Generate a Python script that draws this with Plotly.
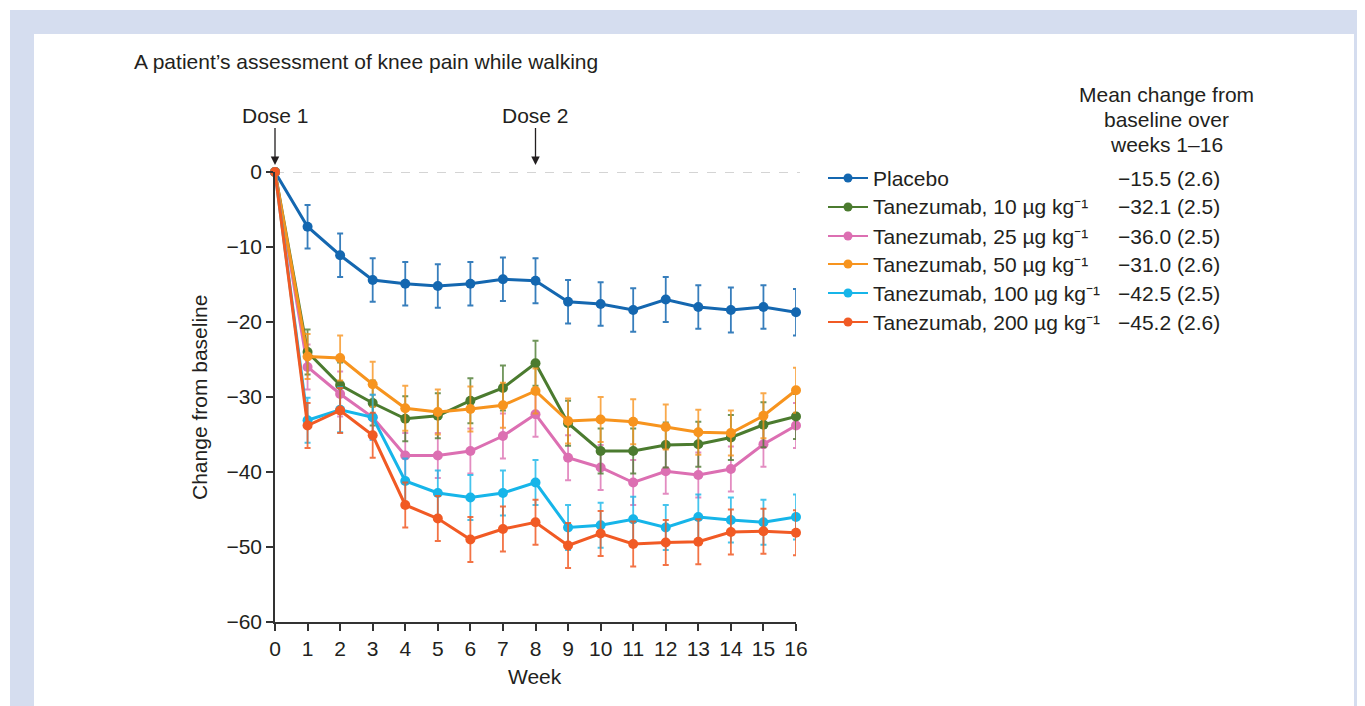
import plotly.graph_objects as go

# ---------------- data ----------------
weeks = list(range(17))
week_ticks = [str(w) for w in weeks]
y_ticks = [0, -10, -20, -30, -40, -50, -60]

placebo = [0, -7.3, -11.1, -14.4, -14.9, -15.2, -14.9, -14.3, -14.5, -17.3, -17.6, -18.4, -17.0, -18.0, -18.4, -18.0, -18.7]
tan10 = [0, -24.0, -28.4, -30.8, -32.9, -32.5, -30.5, -28.8, -25.5, -33.5, -37.2, -37.2, -36.4, -36.3, -35.4, -33.7, -32.6]
tan25 = [0, -26.0, -29.6, -32.7, -37.8, -37.8, -37.2, -35.2, -32.3, -38.1, -39.4, -41.4, -39.9, -40.4, -39.6, -36.3, -33.8]
tan50 = [0, -24.6, -24.8, -28.3, -31.5, -32.0, -31.6, -31.1, -29.2, -33.2, -33.0, -33.3, -34.0, -34.7, -34.8, -32.5, -29.1]
tan100 = [0, -33.1, -31.7, -32.7, -41.2, -42.8, -43.4, -42.8, -41.4, -47.4, -47.1, -46.3, -47.4, -46.0, -46.4, -46.7, -46.0]
tan200 = [0, -33.8, -31.8, -35.1, -44.4, -46.2, -49.0, -47.6, -46.7, -49.8, -48.2, -49.6, -49.4, -49.3, -48.0, -47.9, -48.1]

err_placebo = [0, 2.9, 2.9, 2.9, 2.9, 2.9, 2.9, 2.9, 3.0, 2.9, 2.9, 2.9, 3.0, 2.9, 3.0, 2.9, 3.1]
err_tan10 = [0, 3.0, 3.0, 3.0, 3.0, 3.0, 3.0, 3.0, 3.0, 3.0, 3.0, 3.0, 3.0, 3.0, 3.0, 3.0, 3.0]
err_tan25 = [0, 3.0, 3.0, 3.0, 3.0, 3.0, 3.0, 3.0, 3.0, 3.0, 3.0, 3.0, 3.0, 3.0, 3.0, 3.0, 3.0]
err_tan50 = [0, 3.0, 3.0, 3.0, 3.0, 3.0, 3.0, 3.0, 3.0, 3.0, 3.0, 3.0, 3.0, 3.0, 3.0, 3.0, 3.0]
err_tan100 = [0, 3.0, 3.0, 3.0, 3.0, 3.0, 3.0, 3.0, 3.0, 3.0, 3.0, 3.0, 3.0, 3.0, 3.0, 3.0, 3.0]
err_tan200 = [0, 3.0, 3.0, 3.0, 3.0, 3.0, 3.0, 3.0, 3.0, 3.0, 3.0, 3.0, 3.0, 3.0, 3.0, 3.0, 3.0]

series_names = [
    "Placebo",
    "Tanezumab, 10 µg kg⁻¹",
    "Tanezumab, 25 µg kg⁻¹",
    "Tanezumab, 50 µg kg⁻¹",
    "Tanezumab, 100 µg kg⁻¹",
    "Tanezumab, 200 µg kg⁻¹",
]
mean_change = ["−15.5 (2.6)", "−32.1 (2.5)", "−36.0 (2.5)", "−31.0 (2.6)", "−42.5 (2.5)", "−45.2 (2.6)"]
header_lines = ["Mean change from", "baseline over", "weeks 1–16"]
series_values = [placebo, tan10, tan25, tan50, tan100, tan200]
series_errors = [err_placebo, err_tan10, err_tan25, err_tan50, err_tan100, err_tan200]
colors = ["#1467b0", "#4b7b2f", "#dc6fb2", "#f7941e", "#16b5e9", "#f15a24"]
err_colors = ["rgba(20,103,176,0.85)", "rgba(75,123,47,0.8)", "rgba(220,111,178,0.8)",
              "rgba(247,148,30,0.8)", "rgba(22,181,233,0.8)", "rgba(241,90,36,0.85)"]
draw_order = [0, 2, 1, 3, 4, 5]

# ---------------- geometry (pixels in the page; body margin of 8px) ----------------
OFF = 8
W, H = 1365 - OFF, 706 - OFF
L, R, T, B = 275 - OFF, 796 - OFF, 172 - OFF, 622 - OFF
FONT = "Liberation Sans, Arial, Helvetica, sans-serif"
TXT = "#231f20"
FS = 21


def px(x):
    return (x - OFF - L) / (R - L)


def py(y):
    return (B - (y - OFF)) / (B - T)


fig = go.Figure()
for i in draw_order:
    fig.add_trace(go.Scatter(
        x=weeks, y=series_values[i], mode="lines+markers",
        line=dict(color=colors[i], width=3),
        marker=dict(color=colors[i], size=10),
        error_y=dict(type="data", array=series_errors[i], visible=True,
                     color=err_colors[i], thickness=1.8, width=3),
        cliponaxis=False, showlegend=False,
    ))

shapes = []
# page frame
shapes.append(dict(type="rect", xref="paper", yref="paper", x0=px(10), x1=px(1366), y0=py(710), y1=py(10),
                   fillcolor="#d5ddef", line=dict(width=0), layer="below"))
shapes.append(dict(type="rect", xref="paper", yref="paper", x0=px(34), x1=px(1354), y0=py(710), y1=py(34),
                   fillcolor="white", line=dict(width=0), layer="below"))
# zero reference line
shapes.append(dict(type="line", xref="paper", yref="y", x0=0, x1=px(800), y0=0, y1=0,
                   line=dict(color="#aaaaaa", width=1.2, dash="dash"), layer="below"))

annotations = []
# legend rows
row_y = [178, 207, 236, 264, 293, 322]
for i in range(6):
    yy = py(row_y[i])
    shapes.append(dict(type="line", xref="paper", yref="paper", x0=px(828), x1=px(868), y0=yy, y1=yy,
                       line=dict(color=colors[i], width=2)))
    shapes.append(dict(type="circle", xref="paper", yref="paper", xsizemode="pixel", ysizemode="pixel",
                       xanchor=px(848), yanchor=yy, x0=-4.5, x1=4.5, y0=-4.5, y1=4.5,
                       fillcolor=colors[i], line=dict(width=0)))
    annotations.append(dict(xref="paper", yref="paper", x=px(871), y=yy, text=series_names[i],
                            showarrow=False, xanchor="left", yanchor="middle",
                            font=dict(size=FS, color=TXT, family=FONT)))
    annotations.append(dict(xref="paper", yref="paper", x=px(1222), y=yy, text=mean_change[i],
                            showarrow=False, xanchor="right", yanchor="middle",
                            font=dict(size=FS, color=TXT, family=FONT)))

header_y = [95, 120, 145]
for line_text, hy in zip(header_lines, header_y):
    annotations.append(dict(xref="paper", yref="paper", x=px(1166), y=py(hy), text=line_text,
                            showarrow=False, xanchor="center", yanchor="middle",
                            font=dict(size=FS, color=TXT, family=FONT)))
annotations.append(dict(xref="paper", yref="paper", x=px(132), y=py(62),
                        text="A patient’s assessment of knee pain while walking",
                        showarrow=False, xanchor="left", yanchor="middle",
                        font=dict(size=FS, color=TXT, family=FONT)))
annotations.append(dict(xref="paper", yref="paper", x=px(199), y=py(398),
                        text="Change from baseline", textangle=-90,
                        showarrow=False, xanchor="center", yanchor="middle",
                        font=dict(size=FS, color=TXT, family=FONT)))
annotations.append(dict(xref="paper", yref="paper", x=px(535), y=py(676),
                        text="Week", showarrow=False, xanchor="center", yanchor="middle",
                        font=dict(size=FS, color=TXT, family=FONT)))
for wk, label in [(0, "Dose 1"), (8, "Dose 2")]:
    annotations.append(dict(x=wk, y=0, xref="x", yref="y", text=label, showarrow=True,
                            arrowhead=2, arrowsize=1.3, arrowwidth=1.3, arrowcolor=TXT,
                            ax=0, ay=-57, standoff=7,
                            font=dict(size=FS, color=TXT, family=FONT)))

fig.update_layout(
    width=W, height=H,
    margin=dict(l=L, r=W - R, t=T, b=H - B, pad=0),
    paper_bgcolor="white", plot_bgcolor="rgba(0,0,0,0)",
    font=dict(family=FONT, color=TXT, size=FS),
    shapes=shapes, annotations=annotations, showlegend=False,
    xaxis=dict(range=[0, 16], tickmode="array", tickvals=weeks, ticktext=week_ticks,
               showgrid=False, zeroline=False, showline=True, linecolor="#333333", linewidth=1.5,
               ticks="outside", ticklen=7, tickwidth=1.5, tickcolor="#333333",
               tickfont=dict(size=FS, color=TXT, family=FONT)),
    yaxis=dict(range=[-60, 0], tickmode="array", tickvals=y_ticks,
               showgrid=False, zeroline=False, showline=True, linecolor="#333333", linewidth=1.5,
               ticks="outside", ticklen=7, tickwidth=1.5, tickcolor="#333333",
               tickfont=dict(size=FS, color=TXT, family=FONT)),
)

fig.write_html("out.html")
